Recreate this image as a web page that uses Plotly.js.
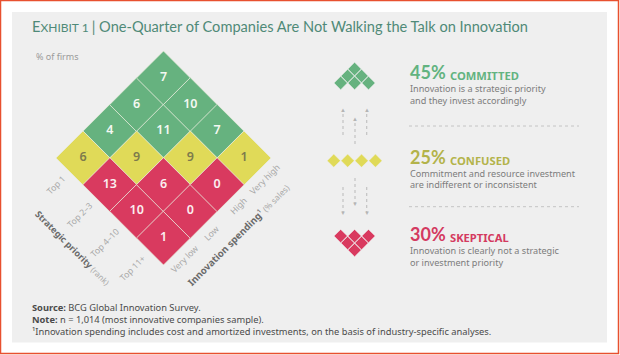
<!DOCTYPE html>
<html><head><meta charset="utf-8">
<script src="https://cdn.plot.ly/plotly-3.0.1.min.js"></script>
<style>html,body{margin:0;padding:0;background:#fff}#c{width:620px;height:355px}</style>
</head><body><div id="c"></div>
<script>
// ---- data (% of firms) ----
const priorities = ['Top 1', 'Top 2–3', 'Top 4–10', 'Top 11+'];
const spending = ['Very low', 'Low', 'High', 'Very high'];
const top1 = [6, 4, 6, 7];
const top2to3 = [13, 9, 11, 10];
const top4to10 = [10, 6, 9, 7];
const top11plus = [1, 0, 0, 1];
const groups = ['Committed', 'Confused', 'Skeptical'];
const groupShares = ['45%', '25%', '30%'];
const groupLabels = ['COMMITTED', 'CONFUSED', 'SKEPTICAL'];
const groupLine1 = ['Innovation is a strategic priority', 'Commitment and resource investment', 'Innovation is clearly not a strategic'];
const groupLine2 = ['and they invest accordingly', 'are indifferent or inconsistent', 'or investment priority'];

// ---- style ----
const FONT = '"Noto Sans", "Open Sans", sans-serif';
const TITLE_FONT = 'Lato, "Noto Sans", sans-serif';
const fills = ['#66b27f', '#e0da58', '#d93a5f'];
const shareCols = ['#62b380', '#b3b34a', '#d43a60'];
const numCols = ['#f4f8f2', '#7d7a4c', '#fbeef0'];
const GAP = '#e9ecdc';
const BG = '#efefef';
const rows = [top1, top2to3, top4to10, top11plus];
const px = x => x / 620, py = y => 1 - y / 355;

// cells on the rotated grid: X = s + p, Y = s - p
const cells = [];
rows.forEach((r, p) => r.forEach((v, s) => cells.push({ X: s + p, Y: s - p, v, g: s > p ? 0 : s === p ? 1 : 2 })));
const inGroup = g => cells.filter(c => c.g === g);

const traces = [];
groups.forEach((name, g) => {
  const cs = inGroup(g);
  traces.push({
    type: 'scatter', mode: 'markers+text', name, showlegend: false, hoverinfo: 'skip',
    x: cs.map(c => c.X), y: cs.map(c => c.Y), text: cs.map(c => String(c.v)),
    textposition: 'middle center', cliponaxis: false,
    textfont: { family: FONT, size: 12.5, color: numCols[g], weight: 600 },
    marker: { symbol: 'diamond', size: 41.6, color: fills[g], line: { color: GAP, width: 0.8 } }
  });
});
// small icons: same cells, smaller scale
const iconShift = [10.1, 0, -9.76];
groups.forEach((name, g) => {
  const cs = inGroup(g);
  traces.push({
    type: 'scatter', mode: 'markers', name: name + ' icon', showlegend: false, hoverinfo: 'skip',
    xaxis: 'x2', yaxis: 'y2',
    x: cs.map(c => c.X), y: cs.map(c => c.Y + iconShift[g]),
    marker: { symbol: 'diamond', size: 10.2, color: fills[g], line: { color: BG, width: 0.5 } }
  });
});

const ann = (x, y, text, size, color, extra) => Object.assign({
  xref: 'paper', yref: 'paper', x: px(x), y: py(y), text, showarrow: false,
  xanchor: 'left', yanchor: 'middle', borderpad: 0, borderwidth: 0,
  font: { family: FONT, size, color }
}, extra || {});

const annotations = [];
const titleFont = { family: TITLE_FONT, size: 12, color: '#4f8a78' };
annotations.push(ann(31.5, 26,
  '<span style="font-size:14.6px">E</span>XHIBIT 1 <span style="font-size:14.6px">| One-Quarter of Companies Are Not Walking the Talk on Innovation</span>',
  12, '#4f8a78', { font: titleFont }));
annotations.push(ann(36, 56, '% of firms', 9, '#9a9a9a'));

// axis tick labels placed on the grid
priorities.forEach((t, p) => annotations.push({
  xref: 'x', yref: 'y', x: p - 0.5, y: -0.5 - p, text: t, showarrow: false, textangle: -45,
  xanchor: 'right', yanchor: 'top', borderpad: 0,
  font: { family: FONT, size: 8.6, color: '#a8a8a8' }
}));
spending.forEach((t, s) => annotations.push({
  xref: 'x', yref: 'y', x: s + 3.8, y: s - 3.8, text: t, showarrow: false, textangle: -45,
  font: { family: FONT, size: 8.6, color: '#a8a8a8' }
}));
annotations.push(ann(72, 248, '<b>Strategic priority</b> <span style="font-size:8px;color:#aaa">(rank)</span>', 9, '#6a6a6a',
  { xanchor: 'center', textangle: 45 }));
annotations.push(ann(238, 235, '<b>Innovation spending</b>¹ <span style="font-size:8.4px;color:#aaa">(% sales)</span>', 9.6, '#6a6a6a',
  { xanchor: 'center', textangle: -45 }));

// legend text
const yShare = [72.5, 157, 234], yL1 = [88, 173, 250], yL2 = [100, 184, 262];
groups.forEach((n, g) => {
  annotations.push(ann(409.5, yShare[g], '<b>' + groupShares[g] + '</b>', 18, shareCols[g], { font: { family: TITLE_FONT, size: 18, color: shareCols[g] } }));
  annotations.push(ann(449.5, yShare[g] + 3, '<b>' + groupLabels[g] + '</b>', 11.2, shareCols[g]));
  annotations.push(ann(409.5, yL1[g] + 0.5, groupLine1[g], 9.1, '#7c7c7c'));
  annotations.push(ann(409.5, yL2[g] + 0.5, groupLine2[g], 9.1, '#7c7c7c'));
});

// footnotes
annotations.push(ann(32, 307, '<b>Source:</b> BCG Global Innovation Survey.', 9.3, '#4a4a4a'));
annotations.push(ann(32, 319, '<b>Note:</b> n = 1,014 (most innovative companies sample).', 9.3, '#4a4a4a'));
annotations.push(ann(32, 331, '¹Innovation spending includes cost and amortized investments, on the basis of industry-specific analyses.', 9.3, '#4a4a4a'));

// dotted arrows
const arrowX = [343, 355, 366.7];
const upY = [[135, 110], [144, 119], [135, 110]];
const downY = [[187, 212], [178, 203], [187, 212]];
const arrowCol = '#b5b5b5';
const shapes = [
  { type: 'rect', xref: 'paper', yref: 'paper', x0: px(0.5), x1: px(618.5), y0: py(0.5), y1: py(353.5), line: { color: '#e8502f', width: 1.5 }, fillcolor: '#ffffff', layer: 'below' },
  { type: 'rect', xref: 'paper', yref: 'paper', x0: px(12), x1: px(607), y0: py(12), y1: py(342.5), line: { width: 0 }, fillcolor: BG, layer: 'below' },
];
[[409, 579, 126], [409, 579, 206.7]].forEach(([a, b, y]) => shapes.push({
  type: 'line', xref: 'paper', yref: 'paper', x0: px(a), x1: px(b), y0: py(y), y1: py(y),
  line: { color: '#c4c4c4', width: 1, dash: 'dot' }, layer: 'below'
}));
arrowX.forEach((x, i) => {
  [upY[i], downY[i]].forEach((seg, k) => {
    shapes.push({ type: 'line', xref: 'paper', yref: 'paper', x0: px(x), x1: px(x), y0: py(seg[0]), y1: py(seg[1]),
      line: { color: '#c2c2c2', width: 1.2, dash: 'dot' }, layer: 'below' });
    annotations.push(ann(x, seg[1] + (k ? 0.5 : -0.5), k ? '▼' : '▲', 6, arrowCol, { xanchor: 'center' }));
  });
});

const layout = {
  width: 620, height: 355, margin: { l: 0, r: 0, t: 0, b: 0 },
  paper_bgcolor: '#ffffff', plot_bgcolor: 'rgba(0,0,0,0)', showlegend: false, hovermode: false,
  xaxis: { range: [-83 / 26.83, (620 - 83) / 26.83], visible: false, fixedrange: true },
  yaxis: { range: [-(355 - 158) / 26.67, 158 / 26.67], visible: false, fixedrange: true },
  xaxis2: { overlaying: 'x', range: [3 - 354.6 / 6.95, 3 + (620 - 354.6) / 6.95], visible: false, fixedrange: true },
  yaxis2: { overlaying: 'y', range: [-(355 - 160.7) / 7, 160.7 / 7], visible: false, fixedrange: true },
  shapes, annotations
};
Plotly.newPlot('c', traces, layout, { displayModeBar: false, staticPlot: true });
</script></body></html>
